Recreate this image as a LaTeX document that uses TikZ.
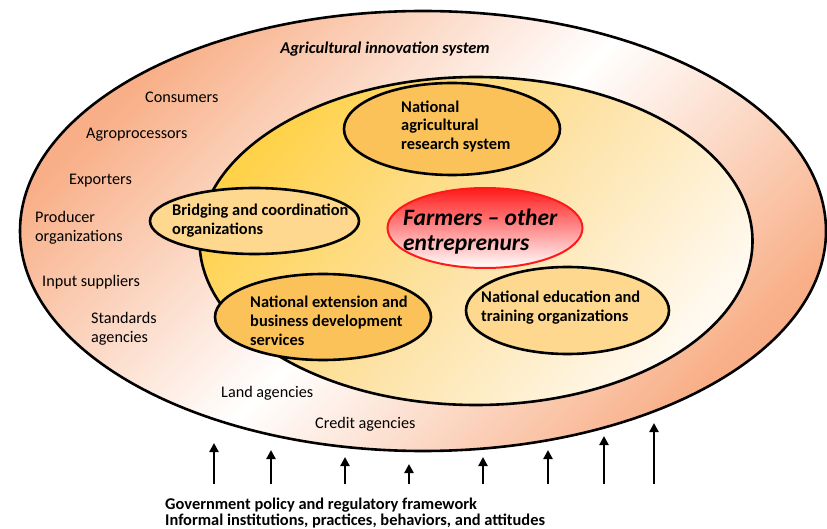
\documentclass[tikz,border=0pt]{standalone}
\usepackage{fontspec}
\setmainfont{Carlito}
\usetikzlibrary{shapes.geometric,arrows.meta}
\definecolor{salm}{HTML}{F8AE86}
\definecolor{yel}{HTML}{FFD24A}
\definecolor{ymid}{HTML}{FDE2A4}
\definecolor{cream}{HTML}{FFF9F0}
\definecolor{orng}{HTML}{FAC259}
\definecolor{lorng}{HTML}{FDD88E}
\definecolor{fred}{HTML}{FF1A1A}
\tikzset{
  oval/.style={ellipse, draw=black, line width=2.6pt, inner sep=0pt},
  lbl/.style={inner sep=0pt, anchor=west, align=left, font=\fontsize{16.2}{18.8}\selectfont},
  blbl/.style={lbl, font=\fontsize{16.4}{18.8}\selectfont\bfseries},
  uparrow/.style={line width=2.4pt, -{Triangle[width=9pt,length=9pt]}}
}
\begin{document}
\begin{tikzpicture}[x=1pt,y=-1pt]
\useasboundingbox (0,0) rectangle (827,529);
% outer system
\node[oval, minimum width=806pt, minimum height=440pt, top color=salm, bottom color=salm, middle color=white, shading angle=45] (ais) at (423,231) {};
% inner yellow
\node[oval, minimum width=553pt, minimum height=328pt, top color=yel, bottom color=cream, middle color=ymid, shading angle=50] (core) at (476,241) {};
% members
\node[oval, minimum width=216pt, minimum height=92pt, fill=orng] (nars) at (452,129) {};
\node[oval, minimum width=209pt, minimum height=66pt, fill=lorng] (bridge) at (254.5,221) {};
\node[oval, minimum width=216pt, minimum height=86pt, fill=orng] (ext) at (323,317) {};
\node[oval, minimum width=203pt, minimum height=87pt, fill=lorng] (edu) at (567.5,310.5) {};
\node[ellipse, draw=fred, line width=2pt, inner sep=0pt, minimum width=195pt, minimum height=80pt, top color=fred, bottom color=white] (farm) at (485,228) {};
% texts
\node[inner sep=0pt, font=\fontsize{16.5}{19}\selectfont\bfseries\itshape] (title) at (385,49) {Agricultural innovation system};
\node[lbl] (t1) at (145,97) {Consumers};
\node[lbl] (t2) at (86,135) {Agroprocessors};
\node[lbl] (t3) at (69,181) {Exporters};
\node[lbl] (t4) at (35,227.5) {Producer\\organizations};
\node[lbl] (t5) at (42,282) {Input suppliers};
\node[lbl] (t6) at (91,329) {Standards\\agencies};
\node[lbl] (t7) at (221,393) {Land agencies};
\node[lbl] (t8) at (315,424) {Credit agencies};
\node[blbl] (tn) at (401,126.5) {National\\agricultural\\research system};
\node[blbl] (tb) at (172,220.5) {Bridging and coordination\\organizations};
\node[blbl] (te) at (250,320.5) {National extension and\\business development\\services};
\node[blbl] (td) at (481,307.5) {National education and\\training organizations};
\node[inner sep=0pt, anchor=west, align=left, font=\fontsize{23.5}{25.5}\selectfont\bfseries\itshape] (tf) at (403,231.5) {Farmers -- other\\entreprenurs};
\node[inner sep=0pt, anchor=west, align=left, font=\fontsize{16.4}{16.5}\selectfont\bfseries] (gov) at (165,513) {Government policy and regulatory framework\\Informal institutions, practices, behaviors, and attitudes};
% arrows
\foreach \i/\x/\t in {1/214/443,2/271/450,3/345/457,4/409/464,5/483/457,6/548/450,7/604/436,8/654/423}{
  \coordinate (s\i) at (\x,484);
  \coordinate (e\i) at (\x,\t);
  \draw[uparrow] (s\i) -- (e\i);
}
\end{tikzpicture}
\end{document}
